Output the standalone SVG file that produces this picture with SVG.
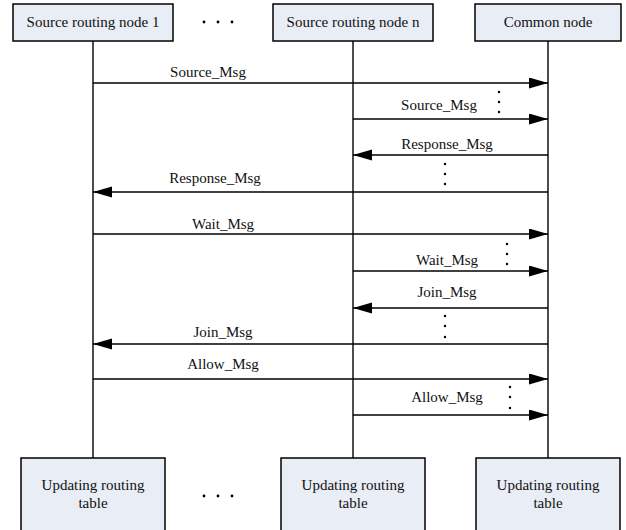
<svg xmlns="http://www.w3.org/2000/svg" width="626" height="530" viewBox="0 0 626 530">
<style>
.box{fill:#e9edf6;stroke:#000;stroke-width:1.5}
.t{font-family:"Liberation Serif","Times New Roman",serif;font-size:15px;fill:#111;text-anchor:middle}
.life{stroke:#000;stroke-width:1.4;fill:none}
.msg{stroke:#000;stroke-width:1.5;fill:none;marker-end:url(#ah)}
.dot{fill:#000}
</style>
<defs>
<marker id="ah" markerUnits="userSpaceOnUse" markerWidth="20" markerHeight="12" refX="19" refY="5.5" orient="auto">
<path d="M0,0 L19,5.5 L0,11 z" fill="#000"/>
</marker>
</defs>
<rect width="626" height="530" fill="#fff"/>
<g id="lifelines">
<line class="life" x1="93" y1="41" x2="93" y2="458"/>
<line class="life" x1="353" y1="41" x2="353" y2="458"/>
<line class="life" x1="548" y1="41" x2="548" y2="458"/>
</g>
<g id="node-src1"><rect class="box" x="13" y="4" width="160" height="37"/><text class="t" x="93" y="27">Source routing node 1</text></g>
<g id="node-srcn"><rect class="box" x="273" y="4" width="160" height="37"/><text class="t" x="353" y="27">Source routing node n</text></g>
<g id="node-common"><rect class="box" x="475" y="4" width="146" height="37"/><text class="t" x="548" y="27">Common node</text></g>
<g id="dots-top"><circle class="dot" cx="204" cy="22" r="1.4"/><circle class="dot" cx="218" cy="22" r="1.4"/><circle class="dot" cx="232" cy="22" r="1.4"/></g>
<g id="upd1"><rect class="box" x="21" y="458" width="144" height="80"/><text class="t" x="93" y="490">Updating routing</text><text class="t" x="93" y="508">table</text></g>
<g id="updn"><rect class="box" x="281" y="458" width="144" height="80"/><text class="t" x="353" y="490">Updating routing</text><text class="t" x="353" y="508">table</text></g>
<g id="updc"><rect class="box" x="476" y="458" width="144" height="80"/><text class="t" x="548" y="490">Updating routing</text><text class="t" x="548" y="508">table</text></g>
<g id="dots-bottom"><circle class="dot" cx="204" cy="496" r="1.4"/><circle class="dot" cx="218" cy="496" r="1.4"/><circle class="dot" cx="232" cy="496" r="1.4"/></g>
<g id="connectors">
<line class="msg" x1="93" y1="83" x2="548" y2="83"/>
<line class="msg" x1="353" y1="119" x2="548" y2="119"/>
<line class="msg" x1="548" y1="155" x2="353" y2="155"/>
<line class="msg" x1="548" y1="192" x2="93" y2="192"/>
<line class="msg" x1="93" y1="234" x2="548" y2="234"/>
<line class="msg" x1="353" y1="271" x2="548" y2="271"/>
<line class="msg" x1="548" y1="308" x2="353" y2="308"/>
<line class="msg" x1="548" y1="344" x2="93" y2="344"/>
<line class="msg" x1="93" y1="379" x2="548" y2="379"/>
<line class="msg" x1="353" y1="415" x2="548" y2="415"/>
</g>
<g id="labels">
<text class="t" x="208" y="77">Source_Msg</text>
<text class="t" x="439" y="110">Source_Msg</text>
<text class="t" x="447" y="149">Response_Msg</text>
<text class="t" x="215" y="183">Response_Msg</text>
<text class="t" x="223" y="229">Wait_Msg</text>
<text class="t" x="447" y="265">Wait_Msg</text>
<text class="t" x="447" y="297">Join_Msg</text>
<text class="t" x="223" y="337">Join_Msg</text>
<text class="t" x="223" y="369">Allow_Msg</text>
<text class="t" x="447" y="402">Allow_Msg</text>
</g>
<g id="vdots">
<circle class="dot" cx="499" cy="92" r="1.2"/><circle class="dot" cx="499" cy="102" r="1.2"/><circle class="dot" cx="499" cy="112" r="1.2"/>
<circle class="dot" cx="445" cy="164" r="1.2"/><circle class="dot" cx="445" cy="174" r="1.2"/><circle class="dot" cx="445" cy="184" r="1.2"/>
<circle class="dot" cx="507" cy="244" r="1.2"/><circle class="dot" cx="507" cy="254" r="1.2"/><circle class="dot" cx="507" cy="264" r="1.2"/>
<circle class="dot" cx="445" cy="316" r="1.2"/><circle class="dot" cx="445" cy="326" r="1.2"/><circle class="dot" cx="445" cy="337" r="1.2"/>
<circle class="dot" cx="510" cy="387" r="1.2"/><circle class="dot" cx="510" cy="397" r="1.2"/><circle class="dot" cx="510" cy="408" r="1.2"/>
</g>
</svg>
